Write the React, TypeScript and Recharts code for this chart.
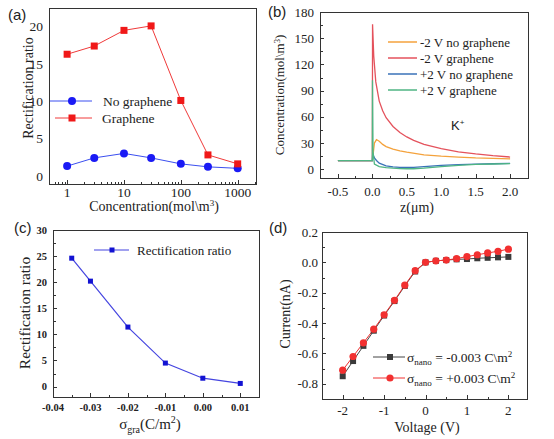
import React from 'react';
import { LineChart, Line, XAxis, YAxis } from 'recharts';

const SERIF = '"Liberation Serif", "Times New Roman", serif';
const SANS = '"Liberation Sans", Arial, sans-serif';
const AX = '#333333';
const TXT = '#222222';

// ---------- (a) rectification ratio vs concentration ----------
const concentrations = [1, 3, 10, 30, 100, 300, 1000];
const ratioNoGraphene = [1.3, 2.4, 3.0, 2.4, 1.6, 1.2, 1.0];
const ratioGraphene = [16.3, 17.4, 19.5, 20.1, 10.1, 2.8, 1.6];
const aXMajor = [1, 10, 100, 1000];
const aXMinor = [0.6, 0.7, 0.8, 0.9, 2, 3, 4, 5, 6, 7, 8, 9, 20, 30, 40, 50, 60, 70, 80, 90, 200, 300, 400, 500, 600, 700, 800, 900, 2000];
const aYTicks = [0, 5, 10, 15, 20];

// ---------- (b) K+ concentration profiles ----------
const zMinus2NoG = [-0.5, 0, 0.01, 0.03, 0.06, 0.1, 0.15, 0.2, 0.3, 0.4, 0.5, 0.75, 1.0, 1.25, 1.5, 1.75, 2.0];
const cMinus2NoG = [10, 10, 16, 30, 34, 32, 28.5, 26, 23, 21, 19.5, 16.5, 15, 14, 13, 12.5, 12];
const zMinus2G = [-0.5, 0, 0.003, 0.02, 0.05, 0.1, 0.15, 0.2, 0.3, 0.4, 0.5, 0.6, 0.75, 1.0, 1.25, 1.5, 1.75, 2.0];
const cMinus2G = [10, 10, 166, 130, 100, 78, 67, 59, 49, 42, 37, 33, 28.5, 23.5, 20, 17.5, 15.5, 14];
const zPlus2NoG = [-0.5, 0, 0.005, 0.03, 0.06, 0.1, 0.2, 0.3, 0.4, 0.5, 0.6, 0.75, 1.0, 1.25, 1.5, 1.75, 2.0];
const cPlus2NoG = [10, 10, 18, 13, 10, 7, 4, 2.8, 2.2, 2, 2.2, 3, 4.5, 5.2, 5.8, 6.3, 6.8];
const zPlus2G = [-0.5, 0, 0.002, 0.01, 0.03, 0.1, 0.2, 0.3, 0.4, 0.5, 0.6, 0.75, 1.0, 1.25, 1.5, 1.75, 2.0];
const cPlus2G = [10, 10, 102, 20, 6, 3, 1.8, 1.2, 0.8, 0.6, 0.6, 1.2, 3, 4.5, 5.5, 6.0, 6.5];
const bXMajor = [-0.5, 0, 0.5, 1.0, 1.5, 2.0];
const bXMinor = [-0.25, 0.25, 0.75, 1.25, 1.75];
const bYMajor = [0, 30, 60, 90, 120, 150, 180];
const bYMinor = [15, 45, 75, 105, 135, 165];

// ---------- (c) rectification ratio vs sigma_gra ----------
const sigmaGra = [-0.035, -0.03, -0.02, -0.01, 0, 0.01];
const ratioSigma = [24.6, 20.2, 11.4, 4.5, 1.6, 0.6];
const cXMajor = [-0.04, -0.03, -0.02, -0.01, 0, 0.01];
const cXMinor = [-0.035, -0.025, -0.015, -0.005, 0.005];
const cYMajor = [0, 5, 10, 15, 20, 25, 30];
const cYMinor = [2.5, 7.5, 12.5, 17.5, 22.5, 27.5];

// ---------- (d) I-V curves ----------
const voltages = [-2, -1.75, -1.5, -1.25, -1, -0.75, -0.5, -0.25, 0, 0.25, 0.5, 0.75, 1, 1.25, 1.5, 1.75, 2];
const currentNeg = [-0.75, -0.65, -0.55, -0.45, -0.35, -0.255, -0.155, -0.06, 0, 0.01, 0.015, 0.02, 0.022, 0.027, 0.03, 0.033, 0.036];
const currentPos = [-0.71, -0.62, -0.53, -0.44, -0.345, -0.25, -0.15, -0.055, 0, 0.01, 0.015, 0.025, 0.038, 0.05, 0.062, 0.073, 0.087];
const dXMajor = [-2, -1, 0, 1, 2];
const dXMinor = [-1.5, -0.5, 0.5, 1.5];
const dYMajor = [-0.8, -0.6, -0.4, -0.2, 0, 0.2];
const dYMinor = [-0.9, -0.7, -0.5, -0.3, -0.1, 0.1];

// ---------- layouts (chart size, margins, axis sizes) ----------
type Layout = { w: number; h: number; t: number; r: number; yw: number; xh: number };
const LA: Layout = { w: 277, h: 215, t: 7, r: 20, yw: 49, xh: 31 };
const LB: Layout = { w: 289, h: 215, t: 11, r: 25, yw: 55, xh: 37 };
const LC: Layout = { w: 277, h: 224, t: 14, r: 17, yw: 53, xh: 42 };
const LD: Layout = { w: 289, h: 224, t: 16, r: 26, yw: 57, xh: 40 };

const A_XD: [number, number] = [0.48, 2100];
const A_YD: [number, number] = [-1.1, 22.5];
const B_XD: [number, number] = [-0.76, 2.26];
const B_YD: [number, number] = [-10, 180];
const C_XD: [number, number] = [-0.04, 0.015];
const C_YD: [number, number] = [-2, 30];
const D_XD: [number, number] = [-2.5, 2.45];
const D_YD: [number, number] = [-0.9, 0.2];

const zip = (xs: number[], ys: number[]) => xs.map((x, i) => ({ x, y: ys[i] }));

// plot frame with inward major/minor tick marks, on the same domain->range mapping as the chart axes
const Frame = ({
  L, xd, yd, xMaj, xMin, yMaj, yMin, log = false,
}: {
  L: Layout; xd: [number, number]; yd: [number, number];
  xMaj: number[]; xMin: number[]; yMaj: number[]; yMin: number[]; log?: boolean;
}) => {
  const x0 = L.yw;
  const x1 = L.w - L.r - 1;
  const y0 = L.t + 1;
  const y1 = L.h - L.xh;
  const tx = (v: number) =>
    log ? (Math.log10(v) - Math.log10(xd[0])) / (Math.log10(xd[1]) - Math.log10(xd[0])) : (v - xd[0]) / (xd[1] - xd[0]);
  const fx = (v: number) => x0 + tx(v) * (x1 - x0);
  const fy = (v: number) => y1 - ((v - yd[0]) / (yd[1] - yd[0])) * (y1 - y0);
  const vt = (v: number, len: number, k: string) => (
    <div key={k} style={{ position: 'absolute', left: Math.round(fx(v)) - 0.5, top: y1 - len, width: 1, height: len, background: AX }} />
  );
  const ht = (v: number, len: number, k: string) => (
    <div key={k} style={{ position: 'absolute', left: x0, top: Math.round(fy(v)) - 0.5, width: len, height: 1, background: AX }} />
  );
  return (
    <div style={{ position: 'absolute', left: 0, top: 0, width: L.w, height: L.h, pointerEvents: 'none' }}>
      <div style={{ position: 'absolute', left: x0 - 0.5, top: y0 - 0.5, width: x1 - x0 + 1, height: y1 - y0 + 1, border: `1px solid ${AX}`, boxSizing: 'border-box' }} />
      {xMaj.map((v, i) => vt(v, 4, `xM${i}`))}
      {xMin.map((v, i) => vt(v, 2.5, `xm${i}`))}
      {yMaj.map((v, i) => ht(v, 4, `yM${i}`))}
      {yMin.map((v, i) => ht(v, 2.5, `ym${i}`))}
    </div>
  );
};

type TickOpts = {
  side: 'bottom' | 'left';
  fmt: (v: number) => string;
  size: number;
  bold?: boolean;
  gap: number;
};

const makeTick = (o: TickOpts) => (props: any) => {
  const { x, y, payload } = props;
  const v = payload.value;
  const weight = o.bold ? 'bold' : 'normal';
  if (o.side === 'bottom') {
    return (
      <text x={x} y={y + o.gap} textAnchor="middle" fontSize={o.size} fontFamily={SERIF} fontWeight={weight} fill={TXT}>
        {o.fmt(v)}
      </text>
    );
  }
  return (
    <text x={x - o.gap} y={y} dy="0.35em" textAnchor="end" fontSize={o.size} fontFamily={SERIF} fontWeight={weight} fill={TXT}>
      {o.fmt(v)}
    </text>
  );
};

const sq = (size: number, fill: string, id: string) => (p: any) => (
  <rect key={`${id}-${p.index}`} x={p.cx - size / 2} y={p.cy - size / 2} width={size} height={size} fill={fill} />
);
const circ = (r: number, fill: string, id: string) => (p: any) => (
  <circle key={`${id}-${p.index}`} cx={p.cx} cy={p.cy} r={r} fill={fill} />
);

const frameAxes = () => [
  <XAxis key="ft" xAxisId="top" orientation="top" type="number" domain={[0, 1]} height={1} tick={false} tickLine={false} axisLine={false} />,
  <YAxis key="fr" yAxisId="right" orientation="right" type="number" domain={[0, 1]} width={1} tick={false} tickLine={false} axisLine={false} />,
];

const PanelA = () => (
  <LineChart width={LA.w} height={LA.h} margin={{ top: LA.t, right: LA.r, bottom: 0, left: 0 }}>
    <XAxis xAxisId="x" type="number" dataKey="x" scale="log" allowDataOverflow domain={A_XD} ticks={aXMajor} interval={0} tickSize={0} tickMargin={0} tickLine={false} axisLine={false} height={LA.xh}
      tick={makeTick({ side: 'bottom', fmt: (v) => String(v), size: 13.5, gap: 12.5 })} />
    <YAxis yAxisId="y" type="number" dataKey="y" allowDataOverflow domain={A_YD} ticks={aYTicks} interval={0} tickSize={0} tickMargin={0} tickLine={false} axisLine={false} width={LA.yw}
      tick={makeTick({ side: 'left', fmt: (v) => String(v), size: 13.5, gap: 6 })} />
    {frameAxes()}
    <Line xAxisId="x" yAxisId="y" data={zip(concentrations, ratioNoGraphene)} dataKey="y" stroke="#3b4ff0" strokeWidth={1} dot={circ(4, '#1a1af5', 'ng')} isAnimationActive={false} />
    <Line xAxisId="x" yAxisId="y" data={zip(concentrations, ratioGraphene)} dataKey="y" stroke="#f03a3a" strokeWidth={1} dot={sq(7, '#f01818', 'g')} isAnimationActive={false} />
    <text x={8} y={20} fontFamily={SANS} fontSize={15} fill={TXT}>(a)</text>
    <text transform="translate(28 88) rotate(-90)" textAnchor="middle" dy="0.35em" fontFamily={SERIF} fontSize={14} fill={TXT}>Rectification ratio</text>
    <text x={154} y={210.5} textAnchor="middle" fontFamily={SERIF} fontSize={14} fill={TXT}>
      {'Concentration(mol\\m'}
      <tspan dy={-5} fontSize={9}>3</tspan>
      <tspan dy={5}>)</tspan>
    </text>
    <line x1={50} y1={101} x2={92} y2={101} stroke="#3b4ff0" strokeWidth={1} />
    <circle cx={72} cy={101} r={4} fill="#1a1af5" />
    <text x={103} y={105.5} fontFamily={SERIF} fontSize={13.5} fill={TXT}>No graphene</text>
    <line x1={55} y1={118} x2={92} y2={118} stroke="#f03a3a" strokeWidth={1} />
    <rect x={68.5} y={114.5} width={7} height={7} fill="#f01818" />
    <text x={102} y={122.5} fontFamily={SERIF} fontSize={13.5} fill={TXT}>Graphene</text>
  </LineChart>
);

const PanelB = () => (
  <LineChart width={LB.w} height={LB.h} margin={{ top: LB.t, right: LB.r, bottom: 0, left: 0 }}>
    <XAxis xAxisId="x" type="number" dataKey="x" allowDataOverflow domain={B_XD} ticks={bXMajor} interval={0} tickSize={0} tickMargin={0} tickLine={false} axisLine={false} height={LB.xh}
      tick={makeTick({ side: 'bottom', fmt: (v) => v.toFixed(1), size: 13, gap: 18 })} />
    <YAxis yAxisId="y" type="number" dataKey="y" allowDataOverflow domain={B_YD} ticks={bYMajor} interval={0} tickSize={0} tickMargin={0} tickLine={false} axisLine={false} width={LB.yw}
      tick={makeTick({ side: 'left', fmt: (v) => String(v), size: 13, gap: 6 })} />
    {frameAxes()}
    <Line xAxisId="x" yAxisId="y" data={zip(zMinus2NoG, cMinus2NoG)} dataKey="y" stroke="#f4a23c" strokeWidth={1.3} dot={false} isAnimationActive={false} />
    <Line xAxisId="x" yAxisId="y" data={zip(zMinus2G, cMinus2G)} dataKey="y" stroke="#e4525c" strokeWidth={1.3} dot={false} isAnimationActive={false} />
    <Line xAxisId="x" yAxisId="y" data={zip(zPlus2NoG, cPlus2NoG)} dataKey="y" stroke="#3a72b8" strokeWidth={1.3} dot={false} isAnimationActive={false} />
    <Line xAxisId="x" yAxisId="y" data={zip(zPlus2G, cPlus2G)} dataKey="y" stroke="#4fb583" strokeWidth={1.3} dot={false} isAnimationActive={false} />
    <text x={3} y={17} fontFamily={SANS} fontSize={15} fill={TXT}>(b)</text>
    <text transform="translate(14 95) rotate(-90)" textAnchor="middle" dy="0.35em" fontFamily={SERIF} fontSize={13} fill={TXT}>
      {'Concentration(mol\\m'}
      <tspan dy={-4} fontSize={8.5}>3</tspan>
      <tspan dy={4}>)</tspan>
    </text>
    <text x={152} y={212} textAnchor="middle" fontFamily={SERIF} fontSize={14} fill={TXT}>z(μm)</text>
    <line x1={123} y1={42} x2={152} y2={42} stroke="#f4a23c" strokeWidth={1.5} />
    <text x={155} y={46.5} fontFamily={SERIF} fontSize={13} fill={TXT}>-2 V no graphene</text>
    <line x1={123} y1={58} x2={152} y2={58} stroke="#e4525c" strokeWidth={1.5} />
    <text x={155} y={62.5} fontFamily={SERIF} fontSize={13} fill={TXT}>-2 V graphene</text>
    <line x1={123} y1={74} x2={152} y2={74} stroke="#3a72b8" strokeWidth={1.5} />
    <text x={155} y={78.5} fontFamily={SERIF} fontSize={13} fill={TXT}>+2 V no graphene</text>
    <line x1={123} y1={90} x2={152} y2={90} stroke="#4fb583" strokeWidth={1.5} />
    <text x={155} y={94.5} fontFamily={SERIF} fontSize={13} fill={TXT}>+2 V graphene</text>
    <text x={186} y={130} fontFamily={SANS} fontSize={13} fill={TXT}>
      K<tspan dy={-5} fontSize={8}>+</tspan>
    </text>
  </LineChart>
);

const PanelC = () => (
  <LineChart width={LC.w} height={LC.h} margin={{ top: LC.t, right: LC.r, bottom: 0, left: 0 }}>
    <XAxis xAxisId="x" type="number" dataKey="x" allowDataOverflow domain={C_XD} ticks={cXMajor} interval={0} tickSize={0} tickMargin={0} tickLine={false} axisLine={false} height={LC.xh}
      tick={makeTick({ side: 'bottom', fmt: (v) => v.toFixed(2), size: 10.5, bold: true, gap: 14 })} />
    <YAxis yAxisId="y" type="number" dataKey="y" allowDataOverflow domain={C_YD} ticks={cYMajor} interval={0} tickSize={0} tickMargin={0} tickLine={false} axisLine={false} width={LC.yw}
      tick={makeTick({ side: 'left', fmt: (v) => String(v), size: 10.5, bold: true, gap: 6 })} />
    {frameAxes()}
    <Line xAxisId="x" yAxisId="y" data={zip(sigmaGra, ratioSigma)} dataKey="y" stroke="#4545e0" strokeWidth={1.2} dot={sq(5, '#1212d2', 'c')} isAnimationActive={false} />
    <text x={14} y={18} fontFamily={SANS} fontSize={15} fill={TXT}>(c)</text>
    <text transform="translate(25 98) rotate(-90)" textAnchor="middle" dy="0.35em" fontFamily={SERIF} fontSize={15.5} fill={TXT}>Rectification ratio</text>
    <text x={150} y={214} textAnchor="middle" fontFamily={SERIF} fontSize={15} fill={TXT}>
      σ<tspan dy={4} fontSize={10}>gra</tspan>
      <tspan dy={-4}>(C/m</tspan>
      <tspan dy={-6} fontSize={10}>2</tspan>
      <tspan dy={6}>)</tspan>
    </text>
    <line x1={94} y1={35} x2={129} y2={35} stroke="#4545e0" strokeWidth={1.2} />
    <rect x={109.5} y={32.5} width={5} height={5} fill="#1212d2" />
    <text x={137} y={39.5} fontFamily={SERIF} fontSize={13} fill={TXT}>Rectification ratio</text>
  </LineChart>
);

const PanelD = () => (
  <LineChart width={LD.w} height={LD.h} margin={{ top: LD.t, right: LD.r, bottom: 0, left: 0 }}>
    <XAxis xAxisId="x" type="number" dataKey="x" allowDataOverflow domain={D_XD} ticks={dXMajor} interval={0} tickSize={0} tickMargin={0} tickLine={false} axisLine={false} height={LD.xh}
      tick={makeTick({ side: 'bottom', fmt: (v) => String(v), size: 13, gap: 16 })} />
    <YAxis yAxisId="y" type="number" dataKey="y" allowDataOverflow domain={D_YD} ticks={dYMajor} interval={0} tickSize={0} tickMargin={0} tickLine={false} axisLine={false} width={LD.yw}
      tick={makeTick({ side: 'left', fmt: (v) => v.toFixed(1), size: 13, gap: 4 })} />
    {frameAxes()}
    <Line xAxisId="x" yAxisId="y" data={zip(voltages, currentNeg)} dataKey="y" stroke="#444444" strokeWidth={1} dot={sq(6, '#3a3a3a', 'dn')} isAnimationActive={false} />
    <Line xAxisId="x" yAxisId="y" data={zip(voltages, currentPos)} dataKey="y" stroke="#f03030" strokeWidth={1} dot={circ(3.6, '#f23030', 'dp')} isAnimationActive={false} />
    <text x={4} y={18} fontFamily={SANS} fontSize={15} fill={TXT}>(d)</text>
    <text transform="translate(20 99) rotate(-90)" textAnchor="middle" dy="0.35em" fontFamily={SERIF} fontSize={14} fill={TXT}>Current(nA)</text>
    <text x={162} y={217} textAnchor="middle" fontFamily={SERIF} fontSize={14} fill={TXT}>Voltage (V)</text>
    <line x1={108} y1={142} x2={140} y2={142} stroke="#444444" strokeWidth={1} />
    <rect x={122} y={139} width={6} height={6} fill="#3a3a3a" />
    <text x={142} y={146.5} fontFamily={SERIF} fontSize={13.5} fill={TXT}>
      σ<tspan dy={3.5} fontSize={9}>nano</tspan>
      <tspan dy={-3.5}>{' = -0.003 C\\m'}</tspan>
      <tspan dy={-5} fontSize={9}>2</tspan>
    </text>
    <line x1={108} y1={163} x2={140} y2={163} stroke="#f03030" strokeWidth={1} />
    <circle cx={125} cy={163} r={3.6} fill="#f23030" />
    <text x={142} y={167.5} fontFamily={SERIF} fontSize={13.5} fill={TXT}>
      σ<tspan dy={3.5} fontSize={9}>nano</tspan>
      <tspan dy={-3.5}>{' = +0.003 C\\m'}</tspan>
      <tspan dy={-5} fontSize={9}>2</tspan>
    </text>
  </LineChart>
);

export default function App() {
  return (
    <div style={{ position: 'absolute', left: 0, top: 0, width: 554, height: 439, background: '#ffffff' }}>
      <div style={{ position: 'absolute', left: 0, top: 0, width: LA.w, height: LA.h }}>
        <PanelA />
        <Frame L={LA} xd={A_XD} yd={A_YD} xMaj={aXMajor} xMin={aXMinor} yMaj={[]} yMin={[]} log />
      </div>
      <div style={{ position: 'absolute', left: 265, top: 0, width: LB.w, height: LB.h }}>
        <PanelB />
        <Frame L={LB} xd={B_XD} yd={B_YD} xMaj={bXMajor} xMin={bXMinor} yMaj={bYMajor} yMin={bYMinor} />
      </div>
      <div style={{ position: 'absolute', left: 0, top: 215, width: LC.w, height: LC.h }}>
        <PanelC />
        <Frame L={LC} xd={C_XD} yd={C_YD} xMaj={cXMajor} xMin={cXMinor} yMaj={cYMajor} yMin={cYMinor} />
      </div>
      <div style={{ position: 'absolute', left: 265, top: 215, width: LD.w, height: LD.h }}>
        <PanelD />
        <Frame L={LD} xd={D_XD} yd={D_YD} xMaj={dXMajor} xMin={dXMinor} yMaj={dYMajor} yMin={dYMinor} />
      </div>
    </div>
  );
}
